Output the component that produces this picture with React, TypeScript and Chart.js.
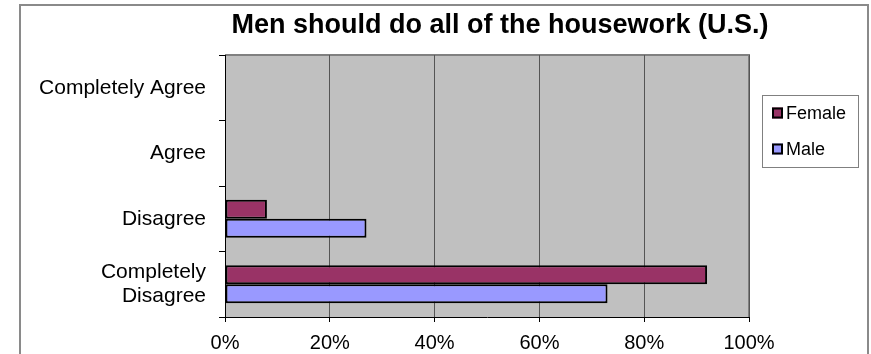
import React, { useEffect, useRef } from "react";
import Chart from "chart.js/auto";

const TITLE = "Men should do all of the housework (U.S.)";
const CATEGORIES: (string | string[])[] = [
  "Completely Agree",
  "Agree",
  "Disagree",
  ["Completely", "Disagree"],
];
const FEMALE = [0, 0, 8, 92];
const MALE = [0, 0, 27, 73];
const SERIES_NAMES = ["Female", "Male"];
const SERIES_COLORS = ["#993366", "#9999FF"];
const X_TICKS = [0, 20, 40, 60, 80, 100];

const FONT = "'Liberation Sans', Arial, sans-serif";

const decorPlugin = {
  id: "decor",
  beforeDraw(chart: any) {
    const { ctx, chartArea: a } = chart;
    ctx.save();
    ctx.fillStyle = "#ffffff";
    ctx.fillRect(0, 0, chart.width, chart.height);
    // outer frame
    ctx.strokeStyle = "#8a8a8a";
    ctx.lineWidth = 2;
    ctx.beginPath();
    ctx.moveTo(20, chart.height + 5);
    ctx.lineTo(20, 5);
    ctx.lineTo(868, 5);
    ctx.lineTo(868, chart.height + 5);
    ctx.stroke();
    // plot area
    ctx.fillStyle = "#C0C0C0";
    ctx.fillRect(a.left, a.top, a.right - a.left, a.bottom - a.top);
    ctx.strokeStyle = "#808080";
    ctx.lineWidth = 2;
    ctx.beginPath();
    ctx.moveTo(a.left, a.top);
    ctx.lineTo(a.right, a.top);
    ctx.lineTo(a.right, a.bottom);
    ctx.stroke();
    ctx.restore();
  },
  afterDraw(chart: any) {
    const { ctx } = chart;
    ctx.save();
    // title
    ctx.fillStyle = "#000";
    ctx.font = `bold 27px ${FONT}`;
    ctx.textAlign = "center";
    ctx.textBaseline = "alphabetic";
    ctx.fillText(TITLE, 500, 33);
    // legend
    ctx.strokeStyle = "#808080";
    ctx.lineWidth = 1;
    ctx.strokeRect(762.5, 95.5, 96, 72);
    const ys = [113, 149];
    ctx.font = `18px ${FONT}`;
    ctx.textAlign = "left";
    ctx.textBaseline = "middle";
    SERIES_NAMES.forEach((name, i) => {
      const y = ys[i];
      ctx.fillStyle = SERIES_COLORS[i];
      ctx.fillRect(772, y - 5.5, 11, 11);
      ctx.strokeStyle = "#000";
      ctx.lineWidth = 2;
      ctx.strokeRect(773, y - 4.5, 9, 9);
      ctx.fillStyle = "#000";
      ctx.fillText(name, 786, y + 1);
    });
    ctx.restore();
  },
};

export default function App() {
  const ref = useRef<HTMLCanvasElement>(null);
  useEffect(() => {
    document.body.style.margin = "0";
    const chart = new Chart(ref.current as HTMLCanvasElement, {
      type: "bar",
      data: {
        labels: CATEGORIES as any,
        datasets: [
          {
            label: SERIES_NAMES[0],
            data: FEMALE,
            backgroundColor: SERIES_COLORS[0],
            borderColor: "#000",
            borderWidth: 2,
            borderSkipped: false,
            categoryPercentage: 0.58,
            barPercentage: 1,
          },
          {
            label: SERIES_NAMES[1],
            data: MALE,
            backgroundColor: SERIES_COLORS[1],
            borderColor: "#000",
            borderWidth: 2,
            borderSkipped: false,
            categoryPercentage: 0.58,
            barPercentage: 1,
          },
        ],
      },
      options: {
        indexAxis: "y",
        animation: false,
        responsive: false,
        devicePixelRatio: 1,
        layout: { padding: { top: 55, right: 122, bottom: 0, left: 0 } },
        plugins: {
          legend: { display: false },
          title: { display: false },
          tooltip: { enabled: false },
        },
        scales: {
          y: {
            type: "category",
            offset: true,
            grid: {
              offset: true,
              drawOnChartArea: false,
              drawTicks: true,
              tickLength: 6,
              tickColor: "#000",
            },
            border: { color: "#000", width: 1 },
            ticks: {
              color: "#000",
              font: { family: FONT, size: 21, lineHeight: 1.15 },
              padding: 13,
            },
            afterFit: (s: any) => {
              s.width = 225;
            },
          },
          x: {
            type: "linear",
            min: X_TICKS[0],
            max: X_TICKS[X_TICKS.length - 1],
            afterBuildTicks: (s: any) => {
              s.ticks = X_TICKS.map((v) => ({ value: v }));
            },
            grid: {
              color: "#555",
              lineWidth: 1,
              drawTicks: true,
              tickLength: 5,
              tickColor: "#000",
            },
            border: { color: "#000", width: 1 },
            ticks: {
              color: "#000",
              font: { family: FONT, size: 20 },
              padding: 9,
              maxRotation: 0,
              callback: (v: any) => `${v}%`,
            },
            afterFit: (s: any) => {
              s.height = 37;
            },
          },
        },
      },
      plugins: [decorPlugin],
    });
    return () => chart.destroy();
  }, []);
  return (
    <canvas
      ref={ref}
      width={871}
      height={354}
      style={{ display: "block", width: 871, height: 354 }}
    />
  );
}
